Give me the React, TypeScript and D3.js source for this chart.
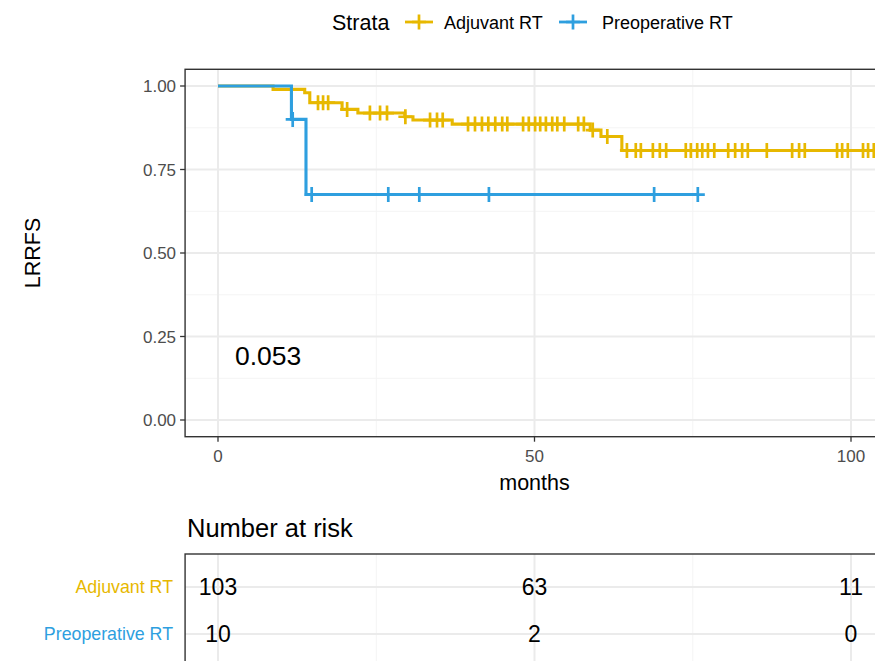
import React from "react";
import * as d3 from "d3";

// ---------- data ----------
const strata = ["Adjuvant RT", "Preoperative RT"];
const colors = ["#E7B800", "#2E9FDF"];

// Kaplan-Meier steps (time in months, survival after the step)
const adjStepTimes = [8.7, 13.7, 14.5, 19.6, 22.1, 29.5, 30.8, 37.0, 58.8, 60.5, 63.8];
const adjStepSurv = [0.99, 0.98, 0.95, 0.93, 0.919, 0.908, 0.898, 0.886, 0.868, 0.849, 0.807];
const adjEnd = 104.5;
const adjCensor = [
  15.8, 16.6, 17.4, 20.4, 24.0, 25.6, 26.7, 29.6, 33.5, 34.6, 35.5, 39.5, 40.6, 41.7, 42.7,
  43.8, 44.9, 45.7, 48.2, 49.1, 50.1, 50.9, 51.8, 52.8, 53.6, 54.7, 56.9, 57.8, 59.2, 61.5,
  64.6, 66.0, 66.8, 68.7, 69.8, 70.8, 73.9, 74.7, 75.7, 76.5, 77.4, 78.4, 80.6, 81.7, 82.8,
  83.7, 86.7, 90.7, 91.8, 92.7, 97.8, 98.6, 99.5, 101.9, 102.7, 103.6,
];

const preStepTimes = [11.6, 13.9];
const preStepSurv = [0.9, 0.675];
const preEnd = 75.8;
const preCensor = [11.8, 14.8, 26.9, 31.8, 42.8, 68.9, 75.8];

const xTicks = [0, 50, 100];
const xMinor = [25, 75];
const yTicks = [0, 0.25, 0.5, 0.75, 1.0];
const yTickLabels = ["0.00", "0.25", "0.50", "0.75", "1.00"];
const yMinor = [0.125, 0.375, 0.625, 0.875];

const riskTimes = [0, 50, 100];
const riskAdj = [103, 63, 11];
const riskPre = [10, 2, 0];

const pValue = "0.053";

// ---------- layout ----------
const W = 875;
const H = 661;
const FONT = "'Liberation Sans', Arial, Helvetica, sans-serif";

const x = d3.scaleLinear().domain([0, 100]).range([218, 851]);
const y = d3.scaleLinear().domain([0, 1]).range([420, 86]);
const xExp = 0.05 * 104;
const panelL = x(-xExp);
const panelR = x(104 + xExp);
const panelT = y(1.05);
const panelB = y(-0.05);

const riskY = d3.scalePoint<string>().domain(strata).range([587, 634]);
const tableT = 554;
const tableB = 700;

function buildCurve(times: number[], surv: number[], end: number) {
  const pts: [number, number][] = [[0, 1]];
  times.forEach((t, i) => pts.push([t, surv[i]]));
  pts.push([end, surv[surv.length - 1]]);
  return pts;
}
function survAt(times: number[], surv: number[], t: number) {
  let v = 1;
  times.forEach((tt, i) => {
    if (tt <= t) v = surv[i];
  });
  return v;
}

const lineGen = d3
  .line<[number, number]>()
  .x((d) => x(d[0]))
  .y((d) => y(d[1]))
  .curve(d3.curveStepAfter);

function Cross({ cx, cy, color }: { cx: number; cy: number; color: string }) {
  const h = 7;
  return (
    <path
      d={`M${cx - h},${cy}H${cx + h}M${cx},${cy - h - 0.5}V${cy + h + 0.5}`}
      stroke={color}
      strokeWidth={2.7}
      fill="none"
    />
  );
}

export default function App() {
  const series = [
    { times: adjStepTimes, surv: adjStepSurv, end: adjEnd, censor: adjCensor, color: colors[0] },
    { times: preStepTimes, surv: preStepSurv, end: preEnd, censor: preCensor, color: colors[1] },
  ];
  const majorGrid = "#EBEBEB";
  const minorGrid = "#F4F4F4";
  return (
    <svg
      width={W}
      height={H}
      style={{ position: "absolute", left: 0, top: 0, background: "#fff" }}
      fontFamily={FONT}
    >
      <rect x={0} y={0} width={W} height={H} fill="#fff" />
      {/* Legend */}
      <text x={332} y={30} fontSize={21.5} fill="#000">Strata</text>
      {strata.map((s, i) => {
        const kx = [405, 559][i];
        const tx = [444, 602][i];
        return (
          <g key={s}>
            <line x1={kx} x2={kx + 28} y1={22} y2={22} stroke={colors[i]} strokeWidth={2.8} />
            <Cross cx={kx + 14} cy={22} color={colors[i]} />
            <text x={tx} y={28.5} fontSize={18} fill="#000">{s}</text>
          </g>
        );
      })}

      {/* Main panel grid */}
      {yMinor.map((v) => (
        <line key={"ym" + v} x1={panelL} x2={panelR} y1={y(v)} y2={y(v)} stroke={minorGrid} strokeWidth={1} />
      ))}
      {xMinor.map((v) => (
        <line key={"xm" + v} x1={x(v)} x2={x(v)} y1={panelT} y2={panelB} stroke={minorGrid} strokeWidth={1} />
      ))}
      {yTicks.map((v) => (
        <line key={"yg" + v} x1={panelL} x2={panelR} y1={y(v)} y2={y(v)} stroke={majorGrid} strokeWidth={2} />
      ))}
      {xTicks.map((v) => (
        <line key={"xg" + v} x1={x(v)} x2={x(v)} y1={panelT} y2={panelB} stroke={majorGrid} strokeWidth={2} />
      ))}

      {/* Curves */}
      {series.map((s, i) => (
        <g key={"s" + i}>
          <path d={lineGen(buildCurve(s.times, s.surv, s.end)) || ""} stroke={s.color} strokeWidth={3.1} fill="none" />
          {s.censor.map((t, j) => (
            <Cross key={j} cx={x(t)} cy={y(survAt(s.times, s.surv, t))} color={s.color} />
          ))}
        </g>
      ))}

      {/* p value */}
      <text x={235} y={365} fontSize={26.5} fill="#000">{pValue}</text>

      {/* Panel border */}
      <rect x={panelL} y={panelT} width={panelR - panelL} height={panelB - panelT} fill="none" stroke="#333333" strokeWidth={1.4} />

      {/* Y axis */}
      {yTicks.map((v, i) => (
        <g key={"yt" + v}>
          <line x1={panelL - 5} x2={panelL} y1={y(v)} y2={y(v)} stroke="#333333" strokeWidth={1.3} />
          <text x={panelL - 9} y={y(v)} dy="0.36em" textAnchor="end" fontSize={17} fill="#4D4D4D">
            {yTickLabels[i]}
          </text>
        </g>
      ))}
      <text
        transform={`translate(40,${(panelT + panelB) / 2}) rotate(-90)`}
        textAnchor="middle"
        fontSize={21.5}
        fill="#000"
      >
        LRRFS
      </text>

      {/* X axis */}
      {xTicks.map((v) => (
        <g key={"xt" + v}>
          <line x1={x(v)} x2={x(v)} y1={panelB} y2={panelB + 5} stroke="#333333" strokeWidth={1.3} />
          <text x={x(v)} y={panelB + 25} textAnchor="middle" fontSize={17} fill="#4D4D4D">
            {v}
          </text>
        </g>
      ))}
      <text x={x(50)} y={490} textAnchor="middle" fontSize={21.5} fill="#000">months</text>

      {/* Risk table */}
      <text x={187} y={537} fontSize={25.5} fill="#000">Number at risk</text>
      {xMinor.map((v) => (
        <line key={"rxm" + v} x1={x(v)} x2={x(v)} y1={tableT} y2={tableB} stroke={minorGrid} strokeWidth={1} />
      ))}
      {xTicks.map((v) => (
        <line key={"rxg" + v} x1={x(v)} x2={x(v)} y1={tableT} y2={tableB} stroke={majorGrid} strokeWidth={2} />
      ))}
      {strata.map((s) => (
        <line key={"ryg" + s} x1={panelL} x2={panelR} y1={riskY(s)!} y2={riskY(s)!} stroke={majorGrid} strokeWidth={2} />
      ))}
      {strata.map((s, i) => {
        const vals = i === 0 ? riskAdj : riskPre;
        return (
          <g key={"rr" + s}>
            <text x={173} y={riskY(s)!} dy="0.35em" textAnchor="end" fontSize={17.8} fill={colors[i]}>
              {s}
            </text>
            {riskTimes.map((t, j) => (
              <text key={t} x={x(t)} y={riskY(s)!} dy="0.36em" textAnchor="middle" fontSize={23} fill="#000">
                {vals[j]}
              </text>
            ))}
          </g>
        );
      })}
      <rect x={panelL} y={tableT} width={panelR - panelL} height={tableB - tableT} fill="none" stroke="#333333" strokeWidth={1.4} />
    </svg>
  );
}
